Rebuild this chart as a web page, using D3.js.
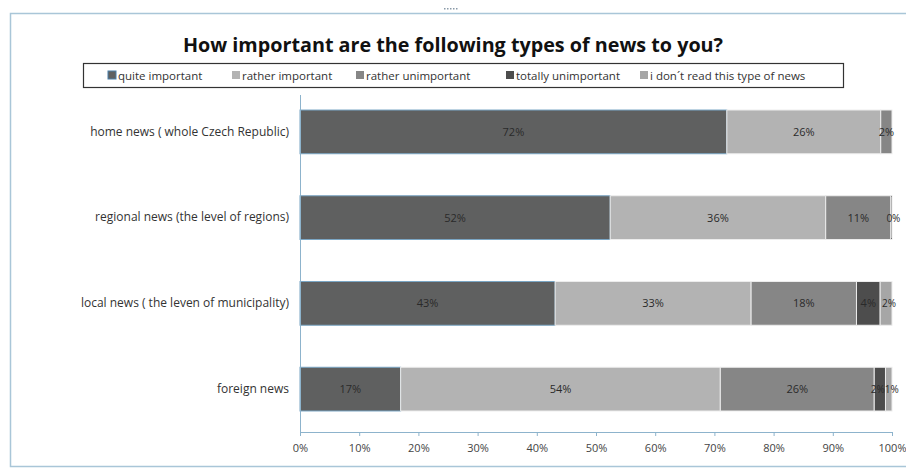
<!DOCTYPE html>
<html>
<head>
<meta charset="utf-8">
<script src="https://cdn.jsdelivr.net/npm/d3@7"></script>
<style>
  body { margin: 0; background: #fff; }
  svg { display: block; font-family: "Open Sans", "Liberation Sans", sans-serif; }
</style>
</head>
<body>
<div id="chart"></div>
<script>
// chart size
var w = 906;
var h = 468;

// data (percent per category)
var categories = [
  "home news ( whole Czech Republic)",
  "regional news (the level of regions)",
  "local news ( the leven of municipality)",
  "foreign news"
];
var seriesNames = [
  "quite important",
  "rather important",
  "rather unimportant",
  "totally unimportant",
  "i don\u00b4t read this type of news"
];
var quiteImportant     = [72.1, 52.4, 43.1, 17.0];
var ratherImportant    = [26.0, 36.4, 33.1, 54.0];
var ratherUnimportant  = [1.9, 11.0, 17.8, 26.0];
var totallyUnimportant = [null, 0.2, 4.0, 1.9];
var dontRead           = [null, null, 2.0, 1.1];
var xTicks = [0, 10, 20, 30, 40, 50, 60, 70, 80, 90, 100];

var colors = ["#5f6060", "#b3b3b3", "#868686", "#4d4d4d", "#a6a6a6"];
var series = [quiteImportant, ratherImportant, ratherUnimportant, totallyUnimportant, dontRead];

var svg = d3.select("#chart").append("svg")
  .attr("width", w)
  .attr("height", h);

// outer chart frame
svg.append("path")
  .attr("d", "M906,13.5 H10.5 V466.5 H906")
  .attr("fill", "none")
  .attr("stroke", "#a9c6d8")
  .attr("stroke-width", 1.5);
// little handle at the top
svg.append("g").selectAll("rect")
  .data([0, 1, 2, 3, 4])
  .enter().append("rect")
  .attr("x", function(d) { return 444 + d * 3; })
  .attr("y", 8)
  .attr("width", 1.5)
  .attr("height", 1.5)
  .attr("fill", "#8a9aa8");

// title
svg.append("text")
  .attr("x", 453)
  .attr("y", 52)
  .attr("text-anchor", "middle")
  .attr("font-size", 20)
  .attr("font-weight", "bold")
  .attr("textLength", 540)
  .attr("lengthAdjust", "spacingAndGlyphs")
  .attr("fill", "#111")
  .text("How important are the following types of news to you?");

// scales
var xScale = d3.scaleLinear().domain([0, 100]).range([300, 892]);
var yScale = d3.scaleBand().domain(categories)
  .range([89, 432]).paddingInner(0.49).paddingOuter(0.245);

// stacked segments
var rows = categories.map(function(c, i) {
  var x0 = 0;
  return series.map(function(s, k) {
    var v = s[i];
    var seg = { cat: c, k: k, v: v, x0: x0, x1: x0 + (v || 0) };
    x0 = seg.x1;
    return seg;
  });
});
var segs = d3.merge(rows);

svg.append("g").selectAll("rect")
  .data(segs.filter(function(d) { return d.v; }))
  .enter().append("rect")
  .attr("x", function(d) { return xScale(d.x0); })
  .attr("y", function(d) { return yScale(d.cat); })
  .attr("width", function(d) { return xScale(d.x1) - xScale(d.x0); })
  .attr("height", yScale.bandwidth())
  .attr("fill", function(d) { return colors[d.k]; })
  .attr("stroke", function(d) { return d.k == 0 ? "#7aa6c4" : "#ececec"; })
  .attr("stroke-width", 1);

// data labels (tiny segments get a smaller label, nudged apart)
var fmt = d3.format(".0%");
svg.append("g").selectAll("text")
  .data(segs.filter(function(d) { return d.v !== null; }))
  .enter().append("text")
  .attr("x", function(d) {
    var x = xScale((d.x0 + d.x1) / 2);
    if (d.v < 1) x += 2;
    else if (d.v < 3 && d.k == 4) x += 3;
    else if (d.v < 3 && d.k == 3) x -= 2;
    return x;
  })
  .attr("y", function(d) { return yScale(d.cat) + yScale.bandwidth() / 2 + 4; })
  .attr("text-anchor", "middle")
  .attr("font-size", function(d) { return d.v < 3 && d.k >= 3 ? 10 : 11; })
  .attr("fill", "#2a2a2a")
  .text(function(d) { return fmt(d.v / 100); });

// x axis
var xAxis = d3.axisBottom(xScale)
  .tickValues(xTicks)
  .tickSize(4)
  .tickFormat(function(d) { return d + "%"; });
var gx = svg.append("g")
  .attr("transform", "translate(0,432)")
  .call(xAxis);
gx.select(".domain").attr("stroke", "#8db3cc");
gx.selectAll(".tick line").attr("stroke", "#8db3cc");
gx.selectAll(".tick text")
  .attr("dy", 13)
  .attr("font-size", 11)
  .attr("font-family", "Open Sans, sans-serif")
  .attr("fill", "#444");

// y axis (line only, labels to the left)
var yAxis = d3.axisLeft(yScale).tickSize(0).tickPadding(11);
var gy = svg.append("g")
  .attr("transform", "translate(300,0)")
  .call(yAxis);
gy.select(".domain").attr("stroke", "#8db3cc").attr("d", "M0.5,95V432");
gy.selectAll(".tick text")
  .attr("font-size", 12)
  .attr("font-family", "Open Sans, sans-serif")
  .attr("fill", "#333");

// legend
var legendX = [108, 232, 356, 506, 640];
svg.append("rect")
  .attr("x", 83.5).attr("y", 63.5)
  .attr("width", 760).attr("height", 24)
  .attr("fill", "#fff")
  .attr("stroke", "#333")
  .attr("stroke-width", 1.2);
var lg = svg.append("g").selectAll("g")
  .data(seriesNames)
  .enter().append("g")
  .attr("transform", function(d, i) { return "translate(" + legendX[i] + ",71)"; });
lg.append("rect")
  .attr("width", 8).attr("height", 8)
  .attr("fill", function(d, i) { return colors[i]; })
  .attr("stroke", function(d, i) { return i == 0 ? "#4a7fa8" : "none"; });
lg.append("text")
  .attr("x", 10)
  .attr("y", 8.5)
  .attr("font-size", 11.5)
  .attr("fill", "#333")
  .text(function(d) { return d; });
</script>
</body>
</html>
